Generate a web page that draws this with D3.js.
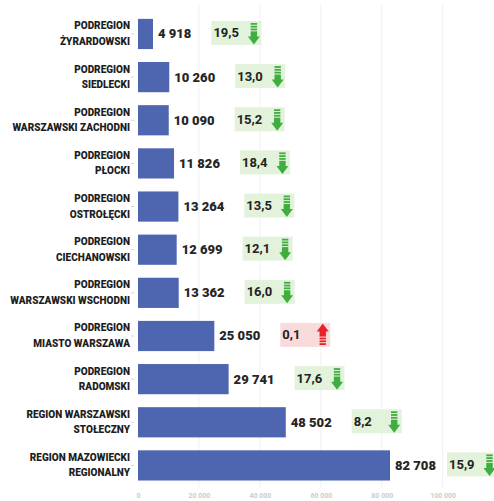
<!DOCTYPE html>
<html>
<head>
<meta charset="utf-8">
<script src="https://cdn.jsdelivr.net/npm/d3@7/dist/d3.min.js"></script>
<style>
  html, body { margin: 0; padding: 0; background: #fff; }
  svg { display: block; }
</style>
</head>
<body>
<svg id="chart" width="494" height="501"></svg>
<script>
// ---- data ----
const categories = [
  "PODREGION ŻYRARDOWSKI",
  "PODREGION SIEDLECKI",
  "PODREGION WARSZAWSKI ZACHODNI",
  "PODREGION PŁOCKI",
  "PODREGION OSTROŁĘCKI",
  "PODREGION CIECHANOWSKI",
  "PODREGION WARSZAWSKI WSCHODNI",
  "PODREGION MIASTO WARSZAWA",
  "PODREGION RADOMSKI",
  "REGION WARSZAWSKI STOŁECZNY",
  "REGION MAZOWIECKI REGIONALNY"
];
const labelLine1 = ["PODREGION","PODREGION","PODREGION","PODREGION","PODREGION","PODREGION","PODREGION","PODREGION","PODREGION","REGION WARSZAWSKI","REGION MAZOWIECKI"];
const labelLine2 = ["ŻYRARDOWSKI","SIEDLECKI","WARSZAWSKI ZACHODNI","PŁOCKI","OSTROŁĘCKI","CIECHANOWSKI","WARSZAWSKI WSCHODNI","MIASTO WARSZAWA","RADOMSKI","STOŁECZNY","REGIONALNY"];
const values = [4918, 10260, 10090, 11826, 13264, 12699, 13362, 25050, 29741, 48502, 82708];
const changes = [19.5, 13.0, 15.2, 18.4, 13.5, 12.1, 16.0, 0.1, 17.6, 8.2, 15.9];
const directions = ["down","down","down","down","down","down","down","up","down","down","down"];
const xTicks = [0, 20000, 40000, 60000, 80000, 100000];

// ---- setup ----
const W = 494, H = 501;
const svg = d3.select("#chart");
svg.append("rect").attr("width", W).attr("height", H).attr("fill", "#fff");

const locale = d3.formatLocale({decimal: ",", thousands: " ", grouping: [3], currency: ["", ""]});
const fmtInt = locale.format(",d");
const fmtDec = locale.format(".1f");

const x = d3.scaleLinear().domain([0, 100000]).range([138, 442.7]);
const y = d3.scaleBand().domain(categories).range([12.4, 487])
  .paddingInner(0.3).paddingOuter(0.15);

// gridlines
svg.append("g").selectAll("line").data(xTicks.slice(1)).join("line")
  .attr("x1", d => x(d)).attr("x2", d => x(d))
  .attr("y1", 4).attr("y2", 488)
  .attr("stroke", "#f1f1f1").attr("stroke-width", 1);

// x axis labels
const xAxis = d3.axisBottom(x).tickValues(xTicks).tickSize(0).tickFormat(d => fmtInt(d));
const gx = svg.append("g").attr("transform", "translate(0,490)").call(xAxis);
gx.select(".domain").remove();
gx.selectAll("text").attr("fill", "#cccccc").attr("font-size", 7)
  .attr("font-family", "Roboto, sans-serif").attr("font-weight", 700);

// y tick marks
svg.append("g").selectAll("line").data(categories).join("line")
  .attr("x1", 131).attr("x2", 134)
  .attr("y1", d => y(d) + y.bandwidth() / 2).attr("y2", d => y(d) + y.bandwidth() / 2)
  .attr("stroke", "#d6d6d6");

// bars
svg.append("g").selectAll("rect").data(categories).join("rect")
  .attr("x", x(0))
  .attr("y", d => y(d))
  .attr("width", (d, i) => x(values[i]) - x(0))
  .attr("height", y.bandwidth())
  .attr("fill", "#4e66b0");

// category labels
const lab = svg.append("g").attr("font-family", "Roboto, sans-serif").attr("font-weight", 900)
  .attr("font-size", 10).attr("fill", "#1e1e1e").attr("text-anchor", "end");
categories.forEach((c, i) => {
  const cy = y(c) + y.bandwidth() / 2;
  lab.append("text").attr("x", 130).attr("y", cy - 4.5).text(labelLine1[i]);
  lab.append("text").attr("x", 130).attr("y", cy + 11).text(labelLine2[i]);
});

// value labels + change boxes
const gv = svg.append("g");
categories.forEach((c, i) => {
  const cy = y(c) + y.bandwidth() / 2;
  const t = gv.append("text")
    .attr("x", x(values[i]) + 5).attr("y", cy + 4.5)
    .attr("font-family", "Roboto, sans-serif").attr("font-weight", 900)
    .attr("font-size", 13).attr("fill", "#262626")
    .attr("stroke", "#ffffff").attr("stroke-width", 2).attr("paint-order", "stroke")
    .text(fmtInt(values[i]));
  const end = x(values[i]) + 5 + t.node().getComputedTextLength();
  const bw = 50, bh = 24;
  const bx = Math.min(end + 20, W - 47);
  const by = cy - 1 - bh / 2;
  const up = directions[i] === "up";
  const col = up ? "#e8222b" : "#3fae3f";
  const g = gv.append("g").attr("transform", `translate(${bx},${by})`);
  g.append("rect").attr("width", bw).attr("height", bh).attr("fill", up ? "#fadbdc" : "#e2f2db");
  g.append("text").attr("x", 2).attr("y", 16.5)
    .attr("font-family", "Roboto, sans-serif").attr("font-weight", 700)
    .attr("font-size", 13).attr("fill", "#222").text(fmtDec(changes[i]));
  // arrow
  const ax = 42.5;
  const a = g.append("g").attr("fill", col)
    .attr("transform", up ? `translate(${ax},${bh}) scale(1,-1)` : `translate(${ax},0)`);
  [2, 4.8, 7.6].forEach(s => a.append("rect").attr("x", -3.2).attr("y", s).attr("width", 6.4).attr("height", 1.8));
  a.append("rect").attr("x", -3.2).attr("y", 10.4).attr("width", 6.4).attr("height", 6);
  a.append("path").attr("d", "M-6,15.5 L6,15.5 L0,23.5 Z");
});
</script>
</body>
</html>
